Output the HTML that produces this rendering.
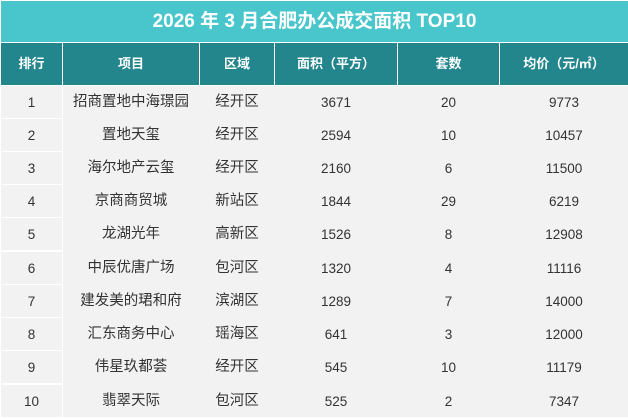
<!DOCTYPE html>
<html>
<head>
<meta charset="utf-8">
<style>
  html,body{margin:0;padding:0;}
  body{width:628px;height:419px;background:#ffffff;position:relative;overflow:hidden;
       font-family:"Liberation Sans","Noto Sans CJK SC",sans-serif;}
  .title{position:absolute;left:1px;top:1px;width:627px;height:41px;background:#48c6cc;
         color:#fff;font-weight:bold;font-size:19px;line-height:41px;text-align:center;letter-spacing:0px;}
  .hdr{position:absolute;top:43px;height:42px;background:#23868d;color:#fff;font-weight:bold;
       font-size:13px;line-height:42px;text-align:center;}
  .cell{position:absolute;height:32px;line-height:33px;text-align:center;color:#333;background:#f2f2f2;font-size:14.5px;}
  .num{font-size:13.5px;}
</style>
</head>
<body>
<div class="title">2026 年 3 月合肥办公成交面积 TOP10</div>

<div class="hdr" style="left:1px;width:61px;">排行</div>
<div class="hdr" style="left:63px;width:136px;">项目</div>
<div class="hdr" style="left:200px;width:74px;">区域</div>
<div class="hdr" style="left:275px;width:122px;">面积（平方）</div>
<div class="hdr" style="left:398px;width:101px;">套数</div>
<div class="hdr" style="left:500px;width:128px;">均价（元/㎡）</div>

<!-- body background for columns 2-6 -->
<div style="position:absolute;left:63px;top:86px;width:565px;height:331px;background:#f2f2f2;"></div>

<!-- rows -->
<div id="rows"></div>

<!-- Row 1 -->
<div class="cell num" style="left:1px;width:61px;top:86px;">1</div>
<div class="cell" style="left:63px;width:136px;top:86px;">招商置地中海璟园</div>
<div class="cell" style="left:200px;width:74px;top:86px;">经开区</div>
<div class="cell num" style="left:275px;width:122px;top:86px;">3671</div>
<div class="cell num" style="left:398px;width:101px;top:86px;">20</div>
<div class="cell num" style="left:500px;width:128px;top:86px;">9773</div>

<!-- Row 2 -->
<div class="cell num" style="left:1px;width:61px;top:119px;">2</div>
<div class="cell" style="left:63px;width:136px;top:119px;">置地天玺</div>
<div class="cell" style="left:200px;width:74px;top:119px;">经开区</div>
<div class="cell num" style="left:275px;width:122px;top:119px;">2594</div>
<div class="cell num" style="left:398px;width:101px;top:119px;">10</div>
<div class="cell num" style="left:500px;width:128px;top:119px;">10457</div>

<!-- Row 3 -->
<div class="cell num" style="left:1px;width:61px;top:152px;">3</div>
<div class="cell" style="left:63px;width:136px;top:152px;">海尔地产云玺</div>
<div class="cell" style="left:200px;width:74px;top:152px;">经开区</div>
<div class="cell num" style="left:275px;width:122px;top:152px;">2160</div>
<div class="cell num" style="left:398px;width:101px;top:152px;">6</div>
<div class="cell num" style="left:500px;width:128px;top:152px;">11500</div>

<!-- Row 4 -->
<div class="cell num" style="left:1px;width:61px;top:185px;">4</div>
<div class="cell" style="left:63px;width:136px;top:185px;">京商商贸城</div>
<div class="cell" style="left:200px;width:74px;top:185px;">新站区</div>
<div class="cell num" style="left:275px;width:122px;top:185px;">1844</div>
<div class="cell num" style="left:398px;width:101px;top:185px;">29</div>
<div class="cell num" style="left:500px;width:128px;top:185px;">6219</div>

<!-- Row 5 -->
<div class="cell num" style="left:1px;width:61px;top:218px;">5</div>
<div class="cell" style="left:63px;width:136px;top:218px;">龙湖光年</div>
<div class="cell" style="left:200px;width:74px;top:218px;">高新区</div>
<div class="cell num" style="left:275px;width:122px;top:218px;">1526</div>
<div class="cell num" style="left:398px;width:101px;top:218px;">8</div>
<div class="cell num" style="left:500px;width:128px;top:218px;">12908</div>

<!-- Row 6 -->
<div class="cell num" style="left:1px;width:61px;top:252px;">6</div>
<div class="cell" style="left:63px;width:136px;top:252px;">中辰优唐广场</div>
<div class="cell" style="left:200px;width:74px;top:252px;">包河区</div>
<div class="cell num" style="left:275px;width:122px;top:252px;">1320</div>
<div class="cell num" style="left:398px;width:101px;top:252px;">4</div>
<div class="cell num" style="left:500px;width:128px;top:252px;">11116</div>

<!-- Row 7 -->
<div class="cell num" style="left:1px;width:61px;top:285px;">7</div>
<div class="cell" style="left:63px;width:136px;top:285px;">建发美的珺和府</div>
<div class="cell" style="left:200px;width:74px;top:285px;">滨湖区</div>
<div class="cell num" style="left:275px;width:122px;top:285px;">1289</div>
<div class="cell num" style="left:398px;width:101px;top:285px;">7</div>
<div class="cell num" style="left:500px;width:128px;top:285px;">14000</div>

<!-- Row 8 -->
<div class="cell num" style="left:1px;width:61px;top:318px;">8</div>
<div class="cell" style="left:63px;width:136px;top:318px;">汇东商务中心</div>
<div class="cell" style="left:200px;width:74px;top:318px;">瑶海区</div>
<div class="cell num" style="left:275px;width:122px;top:318px;">641</div>
<div class="cell num" style="left:398px;width:101px;top:318px;">3</div>
<div class="cell num" style="left:500px;width:128px;top:318px;">12000</div>

<!-- Row 9 -->
<div class="cell num" style="left:1px;width:61px;top:351px;">9</div>
<div class="cell" style="left:63px;width:136px;top:351px;">伟星玖都荟</div>
<div class="cell" style="left:200px;width:74px;top:351px;">经开区</div>
<div class="cell num" style="left:275px;width:122px;top:351px;">545</div>
<div class="cell num" style="left:398px;width:101px;top:351px;">10</div>
<div class="cell num" style="left:500px;width:128px;top:351px;">11179</div>

<!-- Row 10 -->
<div class="cell num" style="left:1px;width:61px;top:385px;">10</div>
<div class="cell" style="left:63px;width:136px;top:385px;">翡翠天际</div>
<div class="cell" style="left:200px;width:74px;top:385px;">包河区</div>
<div class="cell num" style="left:275px;width:122px;top:385px;">525</div>
<div class="cell num" style="left:398px;width:101px;top:385px;">2</div>
<div class="cell num" style="left:500px;width:128px;top:385px;">7347</div>

</body>
</html>
